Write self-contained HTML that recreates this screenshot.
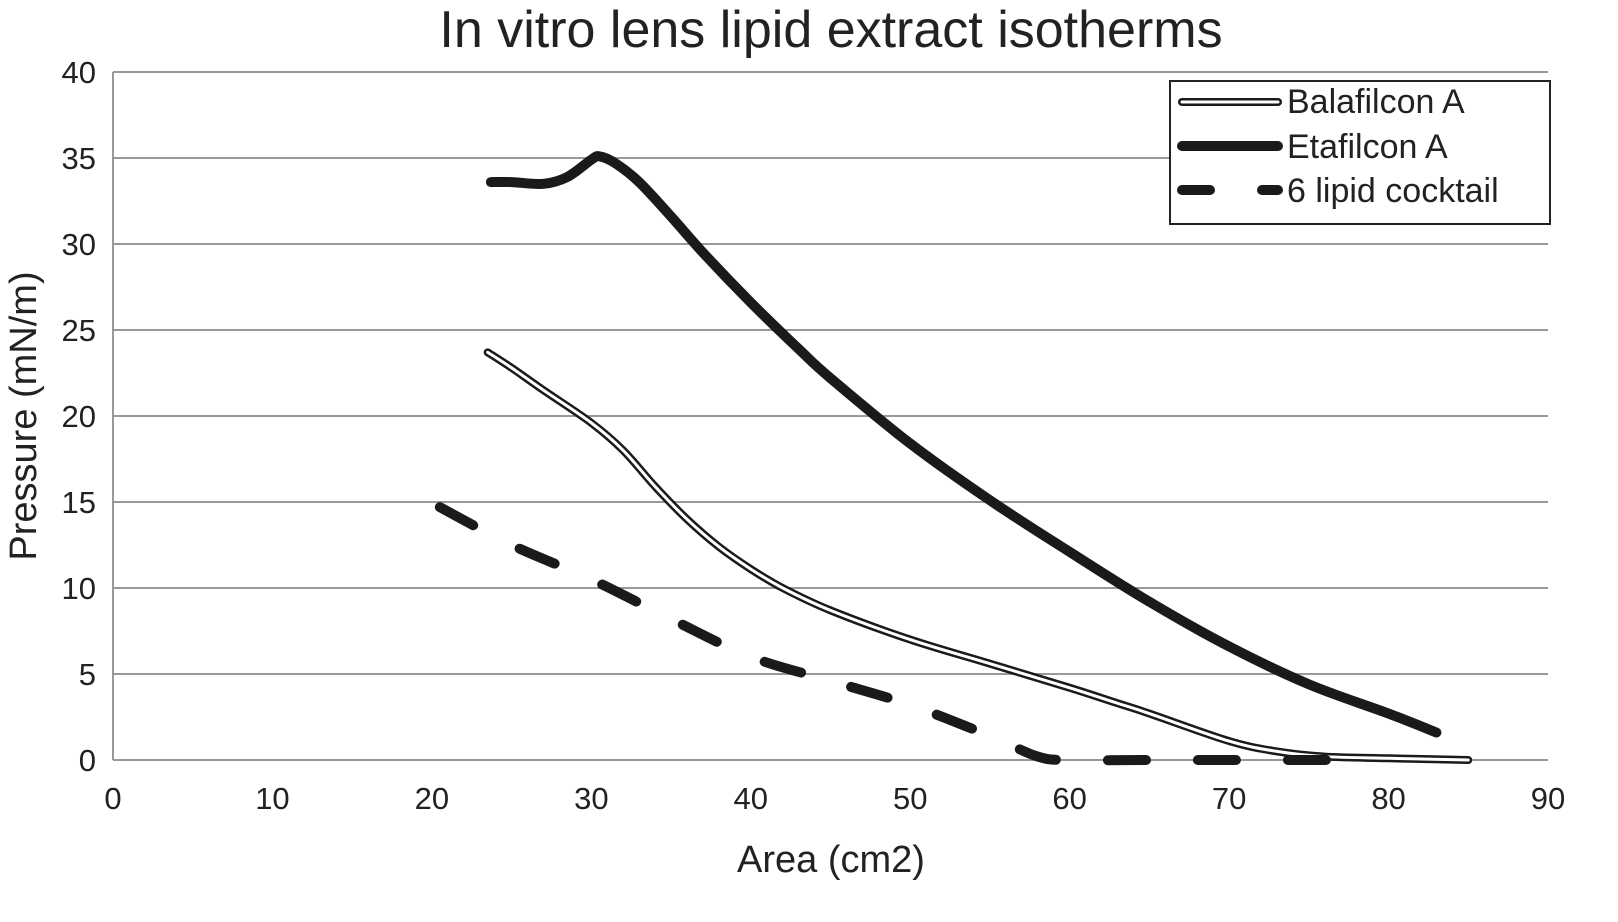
<!DOCTYPE html>
<html><head><meta charset="utf-8"><style>
body{margin:0;background:#fff;}
svg{display:block;font-family:"Liberation Sans",sans-serif;}
</style></head><body>
<svg id="chart" width="1618" height="922"></svg>
<script>
const xTicks=[0,10,20,30,40,50,60,70,80,90];
const yTicks=[0,5,10,15,20,25,30,35,40];
const etaX=[23.7,25,27,28.5,30,30.5,31.5,33,35,37,40,43,45,50,55,60,65,70,75,80,83];
const etaY=[33.6,33.6,33.5,33.9,34.9,35.1,34.7,33.6,31.6,29.5,26.6,23.9,22.2,18.4,15.1,12.1,9.2,6.6,4.4,2.7,1.6];
const balX=[23.5,25,27,30,32,34,36,38,40,42,45,50,55,60,63,65,70,73,76,80,85];
const balY=[23.7,22.8,21.5,19.6,18.0,15.9,14.0,12.4,11.1,10.0,8.7,7.0,5.6,4.2,3.3,2.7,1.1,0.5,0.2,0.1,0.0];
const cockX=[20.5,25,30,35,40,45,50,55,58,60,65,70,78];
const cockY=[14.7,12.5,10.5,8.2,6.0,4.6,3.2,1.4,0.2,0,0,0,0];
const L=113,R=1548,T=72,B=760;
const sx=v=>L+(v/90)*(R-L), sy=v=>B-(v/40)*(B-T);
const svg=document.getElementById('chart');
const NS='http://www.w3.org/2000/svg';
function mk(tag,attrs,parent){const e=document.createElementNS(NS,tag);for(const k in attrs)e.setAttribute(k,attrs[k]);(parent||svg).appendChild(e);return e;}
yTicks.forEach(t=>{
 const g=mk('line',{x1:L,x2:R,y1:sy(t),y2:sy(t),stroke:'#999','stroke-width':2});
 
 
 const tx=mk('text',{x:96,y:sy(t)+11,'text-anchor':'end','font-size':31,fill:'#222'});tx.textContent=t;
 
 
});
const ax=mk('line',{x1:L,x2:L,y1:T,y2:B,stroke:'#999','stroke-width':2});


xTicks.forEach(t=>{
 const tx=mk('text',{x:sx(t),y:809,'text-anchor':'middle','font-size':31,fill:'#222'});tx.textContent=t;
 
 
});
function curve(xs,ys){
 const P=xs.map((x,i)=>[sx(x),sy(ys[i])]);
 let d='M'+P[0][0]+','+P[0][1];
 for(let i=0;i<P.length-1;i++){
  const p0=P[i-1]||P[i],p1=P[i],p2=P[i+1],p3=P[i+2]||P[i+1];
  const c1=[p1[0]+(p2[0]-p0[0])/6,p1[1]+(p2[1]-p0[1])/6];
  const c2=[p2[0]-(p3[0]-p1[0])/6,p2[1]-(p3[1]-p1[1])/6];
  d+=' C'+c1+' '+c2+' '+p2;
 }
 return d;
}
let p=mk('path',{d:curve(balX,balY),fill:'none',stroke:'#1a1a1a','stroke-width':8,'stroke-linejoin':'round','stroke-linecap':'round'});


p=mk('path',{d:curve(balX,balY),fill:'none',stroke:'#fff','stroke-width':3,'stroke-linejoin':'round','stroke-linecap':'round'});


p=mk('path',{d:curve(etaX,etaY),fill:'none',stroke:'#1a1a1a','stroke-width':10,'stroke-linejoin':'round','stroke-linecap':'round'});


p=mk('path',{d:curve(cockX,cockY),fill:'none',stroke:'#1a1a1a','stroke-width':10,'stroke-dasharray':'38 52','stroke-linecap':'round'});


</script>
<div style="position:absolute;left:0;top:0;width:1618px;height:922px;pointer-events:none">
<svg width="1618" height="922">
<text x="831" y="47" text-anchor="middle" font-size="52" fill="#222">In vitro lens lipid extract isotherms</text>
<text x="831" y="872" text-anchor="middle" font-size="38" fill="#222">Area (cm2)</text>
<text transform="translate(36,416) rotate(-90)" text-anchor="middle" font-size="38" fill="#222">Pressure (mN/m)</text>
<g>
<rect x="1170" y="81" width="380" height="143" fill="#fff" stroke="#222" stroke-width="2"/>
<line x1="1182" x2="1278" y1="102" y2="102" stroke="#1a1a1a" stroke-width="8" stroke-linecap="round"/>
<line x1="1182" x2="1278" y1="102" y2="102" stroke="#fff" stroke-width="3" stroke-linecap="round"/>
<text x="1287" y="113" font-size="34" fill="#222">Balafilcon A</text>
<line x1="1182" x2="1278" y1="146" y2="146" stroke="#1a1a1a" stroke-width="10" stroke-linecap="round"/>
<text x="1287" y="158" font-size="34" fill="#222">Etafilcon A</text>
<line x1="1182" x2="1210" y1="190" y2="190" stroke="#1a1a1a" stroke-width="10" stroke-linecap="round"/>
<line x1="1262" x2="1278" y1="190" y2="190" stroke="#1a1a1a" stroke-width="10" stroke-linecap="round"/>
<text x="1287" y="202" font-size="34" fill="#222">6 lipid cocktail</text>
</g>
</svg></div>
</body></html>
